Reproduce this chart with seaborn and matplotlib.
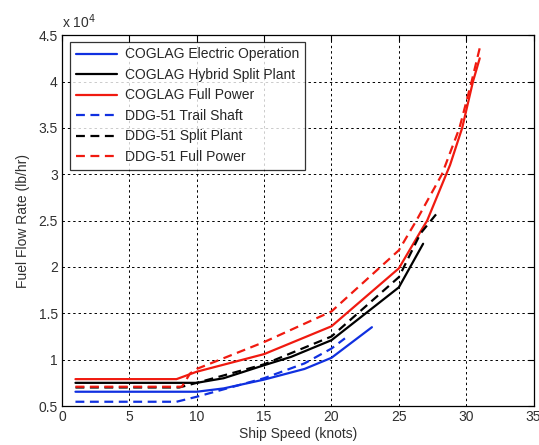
import pandas as pd
import matplotlib
matplotlib.use("Agg")
import matplotlib.pyplot as plt
import seaborn as sns
from matplotlib.ticker import FuncFormatter

# Fuel flow (lb/hr) vs ship speed (knots)
coglag_elec_x = [1, 10, 12, 15, 18, 20, 23]
coglag_elec_y = [6540, 6540, 6900, 7850, 9000, 10200, 13500]

coglag_split_x = [1, 10, 12, 15, 17, 20, 25, 26.8]
coglag_split_y = [7500, 7500, 8000, 9400, 10300, 12100, 17800, 22500]

coglag_full_x = [1, 8.5, 10, 15, 20, 25, 26.6, 27.1, 28.8, 29.7, 30.5, 31]
coglag_full_y = [7900, 7900, 8700, 10600, 13600, 19850, 23800, 25000, 31000, 35000, 40000, 42500]

ddg_trail_x = [1, 8.5, 10, 12, 15, 18, 20, 21]
ddg_trail_y = [5460, 5460, 6000, 6800, 8000, 9600, 11200, 12300]

ddg_split_x = [1, 8.7, 10, 15, 20, 25, 26.6, 28]
ddg_split_y = [7000, 7000, 7500, 9500, 12500, 18900, 23600, 26100]

ddg_full_x = [1, 8.9, 9.5, 10, 15, 20, 25, 26.3, 28.2, 29.5, 30.4, 31]
ddg_full_y = [7080, 7080, 8500, 9000, 11900, 15200, 21800, 25000, 30000, 35000, 40000, 43600]

series = [
    ("COGLAG Electric Operation", coglag_elec_x, coglag_elec_y),
    ("COGLAG Hybrid Split Plant", coglag_split_x, coglag_split_y),
    ("COGLAG Full Power", coglag_full_x, coglag_full_y),
    ("DDG-51 Trail Shaft", ddg_trail_x, ddg_trail_y),
    ("DDG-51 Split Plant", ddg_split_x, ddg_split_y),
    ("DDG-51 Full Power", ddg_full_x, ddg_full_y),
]

rows = []
for name, xs, ys in series:
    for i, (x, y) in enumerate(zip(xs, ys)):
        rows.append({"series": name, "order": i, "speed": x, "fuel": y})
df = pd.DataFrame(rows)

blue, black, red = "#1030e0", "#000000", "#f01a10"
palette = {
    "COGLAG Electric Operation": blue,
    "COGLAG Hybrid Split Plant": black,
    "COGLAG Full Power": red,
    "DDG-51 Trail Shaft": blue,
    "DDG-51 Split Plant": black,
    "DDG-51 Full Power": red,
}
dashes = {
    "COGLAG Electric Operation": "",
    "COGLAG Hybrid Split Plant": "",
    "COGLAG Full Power": "",
    "DDG-51 Trail Shaft": (4, 2.5),
    "DDG-51 Split Plant": (4, 2.5),
    "DDG-51 Full Power": (4, 2.5),
}

sns.set_style("white")
plt.rcParams["font.family"] = ["Liberation Sans", "DejaVu Sans"]

fig = plt.figure(figsize=(5.39, 4.45), dpi=100)
ax = fig.add_axes([0.115, 0.0876, 0.875, 0.8334])

order = [s[0] for s in series]
sns.lineplot(data=df, x="speed", y="fuel", hue="series", style="series",
             hue_order=order, style_order=order, palette=palette, dashes=dashes,
             estimator=None, sort=False, units="series", linewidth=1.6, ax=ax)

ax.set_xlim(0, 35)
ax.set_ylim(5000, 45000)
ax.set_xticks(range(0, 36, 5))
ax.set_yticks([5000 + 5000 * i for i in range(9)])
ax.yaxis.set_major_formatter(FuncFormatter(lambda v, p: "%g" % (v / 1e4)))

ax.grid(True, color="black", linestyle=(0, (2.5, 3)), linewidth=0.7)
for side in ax.spines.values():
    side.set_color("black")
    side.set_linewidth(0.9)
ax.tick_params(direction="in", top=True, right=True, length=4, width=0.8,
               labelsize=10, labelcolor="#303030", color="black", pad=3)

ax.set_xlabel("Ship Speed (knots)", fontsize=10, color="#303030", labelpad=2)
ax.set_ylabel("Fuel Flow Rate (lb/hr)", fontsize=10, color="#303030", labelpad=6)
ax.text(0.0, 1.012, r"x 10$^4$", transform=ax.transAxes, fontsize=10,
        color="#303030", ha="left", va="bottom")

leg = ax.legend(loc="upper left", bbox_to_anchor=(0.017, 0.982), fontsize=10,
                frameon=True, fancybox=False, handlelength=3.0,
                borderpad=0.4, labelspacing=0.47, handletextpad=0.55,
                borderaxespad=0)
leg.get_frame().set_edgecolor("black")
leg.get_frame().set_linewidth(0.9)
for h in leg.get_lines():
    h.set_linewidth(1.6)

fig.savefig("out.png", dpi=100)
